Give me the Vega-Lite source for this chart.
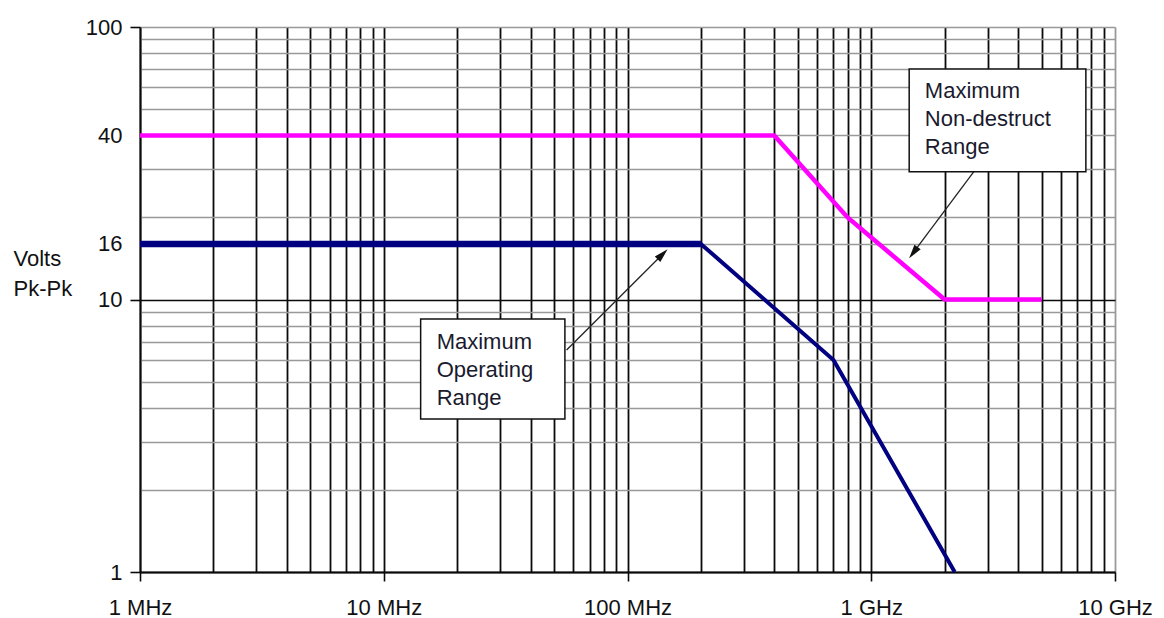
{
  "$schema": "https://vega.github.io/schema/vega-lite/v6.json",
  "width": 975,
  "height": 545,
  "autosize": {"type": "none"},
  "padding": {"left": 140, "top": 27, "right": 49, "bottom": 46},
  "background": "white",
  "config": {"view": {"stroke": null}, "font": "Liberation Sans", "text": {"font": "Liberation Sans"}},
  "datasets": {
    "curves": [
      {"series": "Maximum Operating Range", "f": 1, "v": 16},
      {"series": "Maximum Operating Range", "f": 200, "v": 16},
      {"series": "Maximum Operating Range", "f": 700, "v": 6},
      {"series": "Maximum Operating Range", "f": 2200, "v": 1},
      {"series": "Maximum Non-destruct Range", "f": 1, "v": 40},
      {"series": "Maximum Non-destruct Range", "f": 400, "v": 40},
      {"series": "Maximum Non-destruct Range", "f": 800, "v": 20},
      {"series": "Maximum Non-destruct Range", "f": 2000, "v": 10},
      {"series": "Maximum Non-destruct Range", "f": 5000, "v": 10}
    ],
    "notes": [
      {"series": "Maximum Operating Range", "label": "Maximum\nOperating\nRange", "f1": 14.17, "f2": 55.36, "v1": 8.48, "v2": 3.64, "tf": 16.48, "tv": 7.0, "af": 56.26, "av": 6.53, "hf": 139.3, "hv": 14.66},
      {"series": "Maximum Non-destruct Range", "label": "Maximum\nNon-destruct\nRange", "f1": 1431, "f2": 7594, "v1": 70.15, "v2": 29.44, "tf": 1659, "tv": 58.4, "af": 2636, "av": 29.44, "hf": 1488, "hv": 14.85}
    ]
  },
  "layer": [
    {
      "data": {"name": "curves"},
      "transform": [{"filter": "datum.series == 'Maximum Non-destruct Range'"}],
      "mark": {"type": "line", "color": "#FF00FF", "strokeWidth": 4.5, "strokeCap": "butt"},
      "encoding": {
        "x": {
          "field": "f", "type": "quantitative",
          "scale": {"type": "log", "domain": [1, 10000], "nice": false},
          "axis": {
            "values": [1,2,3,4,5,6,7,8,9,10,20,30,40,50,60,70,80,90,100,200,300,400,500,600,700,800,900,1000,2000,3000,4000,5000,6000,7000,8000,9000,10000],
            "title": null,
            "grid": true,
            "gridColor": {"condition": {"test": "datum.value == 10000", "value": "#9a9a9a"}, "value": "#0a0a0a"},
            "gridWidth": 1.8,
            "ticks": true,
            "tickSize": 9,
            "tickColor": "#0a0a0a",
            "tickWidth": 1.6,
            "tickOpacity": {"condition": {"test": "indexof([1,10,100,1000,10000], datum.value) >= 0", "value": 1}, "value": 0},
            "labelExpr": "datum.value == 1 ? '1 MHz' : datum.value == 10 ? '10 MHz' : datum.value == 100 ? '100 MHz' : datum.value == 1000 ? '1 GHz' : datum.value == 10000 ? '10 GHz' : ''",
            "labelFont": "Liberation Sans",
            "labelFontSize": 22,
            "labelColor": "#111111",
            "labelPadding": 16,
            "labelOverlap": false,
            "labelBound": false,
            "labelFlush": false,
            "domain": true,
            "domainColor": "#0a0a0a",
            "domainWidth": 1.8
          }
        },
        "y": {
          "field": "v", "type": "quantitative",
          "scale": {"type": "log", "domain": [1, 100], "nice": false},
          "axis": {
            "values": [1,2,3,4,5,6,7,8,9,10,16,20,30,40,50,60,70,80,90,100],
            "title": ["Volts", "Pk-Pk"],
            "titleAngle": 0,
            "titleAlign": "left",
            "titleBaseline": "middle",
            "titleX": -127,
            "titleY": 231,
            "titleFont": "Liberation Sans",
            "titleFontSize": 22,
            "titleFontWeight": "normal",
            "titleColor": "#111111",
            "titleLineHeight": 30,
            "grid": true,
            "gridColor": {"condition": {"test": "datum.value == 10 || datum.value == 1", "value": "#0a0a0a"}, "value": "#999999"},
            "gridWidth": 1.6,
            "ticks": true,
            "tickSize": 10,
            "tickColor": "#0a0a0a",
            "tickWidth": 1.6,
            "tickOpacity": {"condition": {"test": "indexof([1,10,100], datum.value) >= 0", "value": 1}, "value": 0},
            "labelExpr": "indexof([1,10,16,40,100], datum.value) >= 0 ? datum.label : ''",
            "labelFont": "Liberation Sans",
            "labelFontSize": 22,
            "labelColor": "#111111",
            "labelPadding": 8,
            "labelOverlap": false,
            "labelBound": false,
            "labelFlush": false,
            "domain": true,
            "domainColor": "#0a0a0a",
            "domainWidth": 1.8
          }
        }
      }
    },
    {
      "data": {"name": "curves"},
      "transform": [{"filter": "datum.series == 'Maximum Operating Range'"}],
      "mark": {"type": "line", "color": "#000080", "strokeWidth": 4, "strokeCap": "butt"},
      "encoding": {
        "x": {"field": "f", "type": "quantitative", "scale": {"type": "log", "domain": [1, 10000], "nice": false}},
        "y": {"field": "v", "type": "quantitative", "scale": {"type": "log", "domain": [1, 100], "nice": false}}
      }
    },
    {
      "data": {"name": "curves"},
      "transform": [{"filter": "datum.series == 'Maximum Operating Range' && datum.f <= 200"}],
      "mark": {"type": "line", "color": "#000080", "strokeWidth": 6.5, "strokeCap": "butt"},
      "encoding": {
        "x": {"field": "f", "type": "quantitative", "scale": {"type": "log", "domain": [1, 10000], "nice": false}},
        "y": {"field": "v", "type": "quantitative", "scale": {"type": "log", "domain": [1, 100], "nice": false}}
      }
    },
    {
      "data": {"name": "notes"},
      "mark": {"type": "rule", "color": "#222222", "strokeWidth": 1.3},
      "encoding": {
        "x": {"field": "af", "type": "quantitative", "scale": {"type": "log", "domain": [1, 10000], "nice": false}},
        "y": {"field": "av", "type": "quantitative", "scale": {"type": "log", "domain": [1, 100], "nice": false}},
        "x2": {"field": "hf"},
        "y2": {"field": "hv"}
      }
    },
    {
      "data": {"name": "notes"},
      "transform": [{"filter": "datum.series == 'Maximum Operating Range'"}],
      "mark": {"type": "point", "shape": "M0,-1L0.55,1L-0.55,1Z", "filled": true, "color": "#111111", "opacity": 1, "size": 200, "angle": 45},
      "encoding": {
        "x": {"field": "hf", "type": "quantitative", "scale": {"type": "log", "domain": [1, 10000], "nice": false}},
        "y": {"field": "hv", "type": "quantitative", "scale": {"type": "log", "domain": [1, 100], "nice": false}}
      }
    },
    {
      "data": {"name": "notes"},
      "transform": [{"filter": "datum.series == 'Maximum Non-destruct Range'"}],
      "mark": {"type": "point", "shape": "M0,-1L0.55,1L-0.55,1Z", "filled": true, "color": "#111111", "opacity": 1, "size": 200, "angle": 216.7},
      "encoding": {
        "x": {"field": "hf", "type": "quantitative", "scale": {"type": "log", "domain": [1, 10000], "nice": false}},
        "y": {"field": "hv", "type": "quantitative", "scale": {"type": "log", "domain": [1, 100], "nice": false}}
      }
    },
    {
      "data": {"name": "notes"},
      "mark": {"type": "rect", "fill": "white", "stroke": "#111111", "strokeWidth": 1.5},
      "encoding": {
        "x": {"field": "f1", "type": "quantitative", "scale": {"type": "log", "domain": [1, 10000], "nice": false}},
        "x2": {"field": "f2"},
        "y": {"field": "v1", "type": "quantitative", "scale": {"type": "log", "domain": [1, 100], "nice": false}},
        "y2": {"field": "v2"}
      }
    },
    {
      "data": {"name": "notes"},
      "mark": {"type": "text", "align": "left", "baseline": "middle", "lineBreak": "\n", "lineHeight": 28.3, "fontSize": 22, "font": "Liberation Sans", "color": "#1a1a2e"},
      "encoding": {
        "x": {"field": "tf", "type": "quantitative", "scale": {"type": "log", "domain": [1, 10000], "nice": false}},
        "y": {"field": "tv", "type": "quantitative", "scale": {"type": "log", "domain": [1, 100], "nice": false}},
        "text": {"field": "label"}
      }
    }
  ]
}
